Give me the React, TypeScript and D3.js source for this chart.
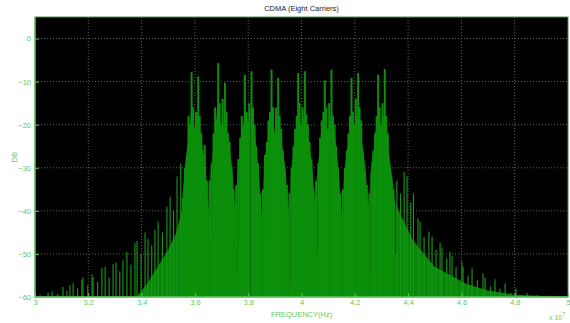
import { useRef, useEffect } from "react";
import * as d3 from "d3";

// axis ticks
const xTicks = [3, 3.2, 3.4, 3.6, 3.8, 4, 4.2, 4.4, 4.6, 4.8, 5];
const yTicks = [0, -10, -20, -30, -40, -50, -60];

// eight carriers (x 10^7 Hz)
const carrierCenters = [3.6, 3.7, 3.8, 3.9, 4.0, 4.1, 4.2, 4.3];

// spike positions inside one carrier lobe, relative to its centre
const lobeOffsets = [-0.045, -0.037, -0.03, -0.024, -0.018, -0.0125, -0.007, -0.002, 0.004, 0.0125, 0.018, 0.024, 0.03, 0.037, 0.045];
const lobeDb = [
  [-37, -30, -27, -18, -20, -7.8, -16, -21, -17, -8.8, -18, -22, -27, -24.7, -33],
  [-33, -29, -22, -16, -19, -5.7, -15, -20, -14, -10.3, -17, -22, -24, -30, -35],
  [-34, -28, -23, -18, -21, -8.4, -17, -19, -15, -7.6, -16, -20, -25, -29, -36],
  [-35, -27, -24, -19, -17, -7.2, -16, -22, -16, -9.1, -18, -21, -26, -31, -34],
  [-36, -30, -25, -21, -18, -8.0, -15, -20, -16, -7.6, -17.6, -20, -24, -28, -35],
  [-33, -29, -23, -19, -17, -9.7, -16, -21, -15, -7.2, -18, -20, -25, -30, -36],
  [-35, -30, -26, -22, -18, -9.1, -17, -20, -14, -8.0, -16, -19, -26, -31, -34],
  [-36, -31, -26, -22, -18, -8.4, -16, -20, -15, -7.1, -18, -22, -29.5, -32, -35],
];

// dense (solid) part of each lobe
const bodyOffsets = [-0.04, -0.025, -0.013, 0, 0.013, 0.025, 0.04];
const bodyDb = [
  [-31, -23, -16, -21, -17, -24, -29],
  [-30, -22, -14, -22, -18, -23, -30],
  [-31, -23, -17, -20, -16, -22, -31],
  [-29, -22, -16, -22, -17, -24, -30],
  [-31, -24, -17, -21, -16, -23, -29],
  [-30, -23, -18, -22, -16, -22, -31],
  [-31, -24, -17, -20, -17, -23, -30],
  [-30, -23, -17, -21, -16, -25, -32],
];
// dips between neighbouring carriers
const gapDb = [-40, -39, -41, -40, -38, -41, -39];

const leftSkirt = [
  [3.0, -60], [3.38, -60], [3.42, -57], [3.46, -53], [3.5, -49], [3.53, -45], [3.55, -40],
];
const rightSkirt = [
  [4.35, -38], [4.38, -42], [4.42, -47], [4.46, -50], [4.5, -53], [4.56, -55],
  [4.62, -57], [4.7, -58.5], [4.8, -59.5], [5.0, -60],
];

// side-band spikes
const leftSideFreq = [3.005, 3.019, 3.034, 3.049, 3.064, 3.085, 3.105, 3.12, 3.131, 3.143, 3.16, 3.176, 3.18, 3.198, 3.214, 3.218, 3.235, 3.251, 3.263, 3.278, 3.293, 3.304, 3.318, 3.33, 3.345, 3.36, 3.375, 3.383, 3.398, 3.413, 3.424, 3.438, 3.45, 3.462, 3.478, 3.495, 3.507, 3.52, 3.533, 3.547];
const leftSideDb = [-59.8, -59.5, -59.7, -59, -58.8, -59.3, -57.7, -58.6, -57.2, -56.8, -58, -56, -55.5, -57.3, -54.7, -55.5, -56.5, -53.2, -53, -55.5, -52.4, -52, -54, -51.5, -49.5, -52.5, -47.5, -47, -50, -45, -46.5, -48, -44.4, -42.5, -45, -39, -36.7, -40, -32, -29];
const rightSideFreq = [4.358, 4.372, 4.385, 4.396, 4.41, 4.42, 4.437, 4.445, 4.46, 4.478, 4.49, 4.505, 4.52, 4.527, 4.545, 4.557, 4.565, 4.58, 4.602, 4.606, 4.625, 4.64, 4.66, 4.681, 4.689, 4.71, 4.726, 4.745, 4.764, 4.785, 4.805, 4.826, 4.846, 4.865, 4.884, 4.92, 4.96];
const rightSideDb = [-33, -36, -31, -32, -38, -36, -41.7, -42.5, -46, -44.8, -46, -49, -47.4, -48.5, -51, -49.5, -50.5, -53, -51.8, -53, -55, -53.3, -56, -54.5, -55.5, -57.5, -55.9, -58, -56.8, -59, -58, -59.5, -59.1, -59.7, -59.6, -59.7, -59.8];

// dark nulls cutting through the dense part
const nullFreq = [3.655, 3.668, 3.758, 3.765, 3.81, 3.855, 3.87, 3.957, 4.06, 4.075, 4.16, 4.257, 4.27, 4.355];
const nullDb = [-50, -46, -55, -48, -60, -52, -47, -57, -50, -46, -53, -55, -48, -50];

const W = 570;
const H = 323;
const margin = { top: 17, right: 2, bottom: 26, left: 35 };

const App = () => {
  const svgRef = useRef(null);

  useEffect(() => {
    const svg = d3.select(svgRef.current);
    svg.selectAll("*").remove();

    const x = d3.scaleLinear().domain([3, 5]).range([margin.left, W - margin.right]);
    const y = d3.scaleLinear().domain([-60, 5]).range([H - margin.bottom, margin.top]);
    const axisGreen = "#5fc85f";
    const font = "'Liberation Sans', Arial, sans-serif";

    // plot background
    svg.append("rect")
      .attr("x", x(3)).attr("y", y(5))
      .attr("width", x(5) - x(3)).attr("height", y(-60) - y(5))
      .attr("fill", "#000");

    // dotted grid
    svg.append("g").selectAll("line").data(xTicks.slice(1, -1)).join("line")
      .attr("x1", (d) => x(d)).attr("x2", (d) => x(d))
      .attr("y1", y(5)).attr("y2", y(-60))
      .attr("stroke", "#7a7a7a").attr("stroke-width", 0.8).attr("stroke-dasharray", "1,2");
    svg.append("g").selectAll("line").data(yTicks.slice(0, -1)).join("line")
      .attr("x1", x(3)).attr("x2", x(5))
      .attr("y1", (d) => y(d)).attr("y2", (d) => y(d))
      .attr("stroke", "#7a7a7a").attr("stroke-width", 0.8).attr("stroke-dasharray", "1,2");

    // solid body of the spectrum
    const body = [...leftSkirt];
    carrierCenters.forEach((c, i) => {
      bodyOffsets.forEach((o, j) => body.push([c + o, bodyDb[i][j]]));
      if (i < gapDb.length) body.push([c + 0.05, gapDb[i]]);
    });
    body.push(...rightSkirt);
    const area = d3.area()
      .x((d) => x(d[0]))
      .y0(y(-60))
      .y1((d) => y(d[1]));
    svg.append("path")
      .datum(body)
      .attr("d", area)
      .attr("fill", "#078607");

    // dark nulls
    svg.append("g").selectAll("line").data(nullFreq).join("line")
      .attr("x1", (d) => x(d)).attr("x2", (d) => x(d))
      .attr("y1", y(-18)).attr("y2", (d, i) => y(nullDb[i]))
      .attr("stroke", "#000").attr("stroke-width", 1).attr("opacity", 0.85);

    // side-band spikes
    const side = [
      ...leftSideFreq.map((f, i) => [f, leftSideDb[i]]),
      ...rightSideFreq.map((f, i) => [f, rightSideDb[i]]),
    ];
    svg.append("g").selectAll("line").data(side).join("line")
      .attr("x1", (d) => x(d[0])).attr("x2", (d) => x(d[0]))
      .attr("y1", y(-60)).attr("y2", (d) => y(d[1]))
      .attr("stroke", "#1a9a1a").attr("stroke-width", 1.1);

    // carrier lobe spikes
    const spikes = [];
    carrierCenters.forEach((c, i) => {
      lobeOffsets.forEach((o, j) => spikes.push([c + o, lobeDb[i][j]]));
    });
    svg.append("g").selectAll("line").data(spikes).join("line")
      .attr("x1", (d) => x(d[0])).attr("x2", (d) => x(d[0]))
      .attr("y1", y(-60)).attr("y2", (d) => y(d[1]))
      .attr("stroke", "#0c900c").attr("stroke-width", 2);

    // box and ticks
    svg.append("rect")
      .attr("x", x(3)).attr("y", y(5))
      .attr("width", x(5) - x(3)).attr("height", y(-60) - y(5))
      .attr("fill", "none").attr("stroke", "#4f8f4f").attr("stroke-width", 1);
    svg.append("line")
      .attr("x1", x(3)).attr("x2", x(5)).attr("y1", y(-60)).attr("y2", y(-60))
      .attr("stroke", axisGreen).attr("stroke-width", 1.5);
    svg.append("line")
      .attr("x1", x(3)).attr("x2", x(3)).attr("y1", y(5)).attr("y2", y(-60))
      .attr("stroke", axisGreen).attr("stroke-width", 1.2);

    const xAxis = d3.axisBottom(x).tickValues(xTicks).tickSize(-4).tickPadding(3)
      .tickFormat((d) => String(d));
    const gx = svg.append("g").attr("transform", `translate(0,${y(-60)})`).call(xAxis);
    gx.select(".domain").remove();
    gx.selectAll("line").attr("stroke", axisGreen);
    gx.selectAll("text").attr("fill", axisGreen).attr("font-size", 7.5).attr("font-family", font);

    const yAxis = d3.axisLeft(y).tickValues(yTicks).tickSize(-4).tickPadding(4);
    const gy = svg.append("g").attr("transform", `translate(${x(3)},0)`).call(yAxis);
    gy.select(".domain").remove();
    gy.selectAll("line").attr("stroke", axisGreen);
    gy.selectAll("text").attr("fill", axisGreen).attr("font-size", 7.5).attr("font-family", font);

    // labels
    svg.append("text")
      .attr("x", (x(3) + x(5)) / 2).attr("y", 11)
      .attr("text-anchor", "middle").attr("font-size", 7.5).attr("font-family", font)
      .attr("fill", "#222").text("CDMA (Eight Carriers)");
    svg.append("text")
      .attr("x", (x(3) + x(5)) / 2).attr("y", 317)
      .attr("text-anchor", "middle").attr("font-size", 7.5).attr("font-family", font)
      .attr("fill", axisGreen).text("FREQUENCY(Hz)");
    svg.append("text")
      .attr("transform", `translate(17,${(y(5) + y(-60)) / 2}) rotate(-90)`)
      .attr("text-anchor", "middle").attr("font-size", 7.5).attr("font-family", font)
      .attr("fill", axisGreen).text("DB");
    const ex = svg.append("text")
      .attr("x", 549).attr("y", 320)
      .attr("font-size", 7).attr("font-family", font)
      .attr("fill", axisGreen).text("x 10");
    ex.append("tspan").attr("dy", -4).attr("font-size", 5.5).text("7");
  }, []);

  return (
    <svg
      ref={svgRef}
      width={W}
      height={H}
      style={{ position: "absolute", left: 0, top: 0, background: "#fff" }}
    ></svg>
  );
};

export default App;
